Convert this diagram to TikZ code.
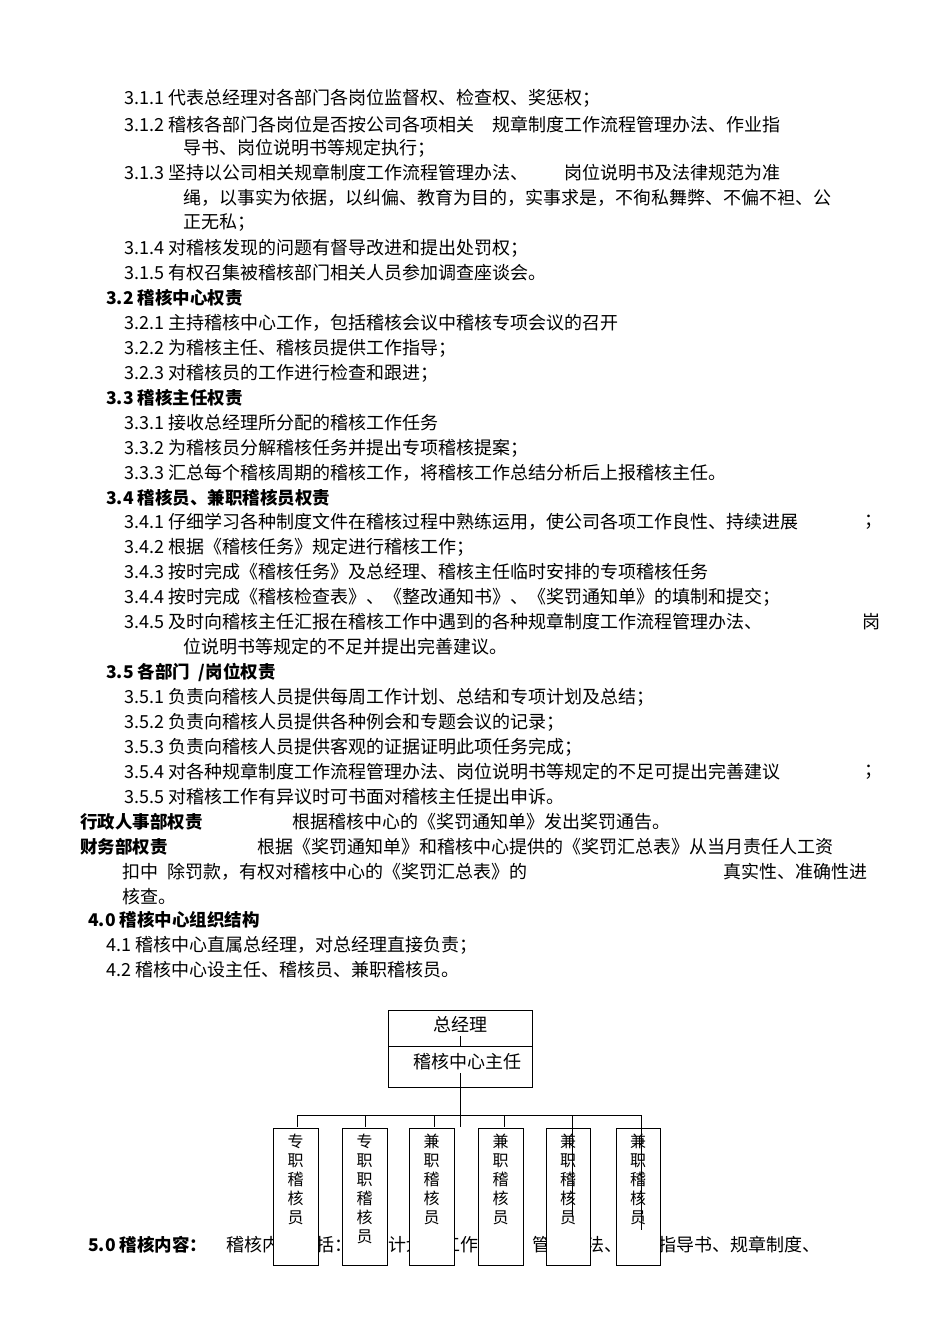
\documentclass[tikz,border=0pt]{standalone}
\usepackage{fontspec}
\setmainfont{Noto Sans CJK SC}
\begin{document}
\begin{tikzpicture}[x=1pt,y=-1pt,
  t/.style={anchor=west,inner sep=0pt,font=\fontsize{18}{20}\selectfont},
  h/.style={anchor=west,inner sep=0pt,font=\fontsize{17.5}{20}\selectfont\bfseries},
  bx/.style={draw,fill=white,line width=0.8pt},
  ln/.style={line width=0.8pt}]
\useasboundingbox (0,0) rectangle (950,1344);
\node[t] (l1) at (124,98) {3.1.1 代表总经理对各部门各岗位监督权、检查权、奖惩权；};
\node[t] (l2) at (124,125) {3.1.2 稽核各部门各岗位是否按公司各项相关\quad 规章制度工作流程管理办法、作业指};
\node[t] (l3) at (183,148) {导书、岗位说明书等规定执行；};
\node[t] (l4) at (124,173) {3.1.3 坚持以公司相关规章制度工作流程管理办法、\qquad 岗位说明书及法律规范为准};
\node[t] (l5) at (183,198) {绳，以事实为依据，以纠偏、教育为目的，实事求是，不徇私舞弊、不偏不袒、公};
\node[t] (l6) at (183,223) {正无私；};
\node[t] (l7) at (124,248) {3.1.4 对稽核发现的问题有督导改进和提出处罚权；};
\node[t] (l8) at (124,273) {3.1.5 有权召集被稽核部门相关人员参加调查座谈会。};
\node[h] (h32) at (106,298) {3.2 稽核中心权责};
\node[t] (l9) at (124,323) {3.2.1 主持稽核中心工作，包括稽核会议中稽核专项会议的召开};
\node[t] (l10) at (124,348) {3.2.2 为稽核主任、稽核员提供工作指导；};
\node[t] (l11) at (124,373) {3.2.3 对稽核员的工作进行检查和跟进；};
\node[h] (h33) at (106,398) {3.3 稽核主任权责};
\node[t] (l12) at (124,423) {3.3.1 接收总经理所分配的稽核工作任务};
\node[t] (l13) at (124,448) {3.3.2 为稽核员分解稽核任务并提出专项稽核提案；};
\node[t] (l14) at (124,473) {3.3.3 汇总每个稽核周期的稽核工作，将稽核工作总结分析后上报稽核主任。};
\node[h] (h34) at (106,498) {3.4 稽核员、兼职稽核员权责};
\node[t] (l15) at (124,522) {3.4.1 仔细学习各种制度文件在稽核过程中熟练运用，使公司各项工作良性、持续进展};
\node[t] (s1) at (864,522) {；};
\node[t] (l16) at (124,547) {3.4.2 根据《稽核任务》规定进行稽核工作；};
\node[t] (l17) at (124,572) {3.4.3 按时完成《稽核任务》及总经理、稽核主任临时安排的专项稽核任务};
\node[t] (l18) at (124,597) {3.4.4 按时完成《稽核检查表》、《整改通知书》、《奖罚通知单》的填制和提交；};
\node[t] (l19) at (124,622) {3.4.5 及时向稽核主任汇报在稽核工作中遇到的各种规章制度工作流程管理办法、};
\node[t] (s2) at (862,622) {岗};
\node[t] (l20) at (183,647) {位说明书等规定的不足并提出完善建议。};
\node[h] (h35) at (106,672) {3.5 各部门\enspace /岗位权责};
\node[t] (l21) at (124,697) {3.5.1 负责向稽核人员提供每周工作计划、总结和专项计划及总结；};
\node[t] (l22) at (124,722) {3.5.2 负责向稽核人员提供各种例会和专题会议的记录；};
\node[t] (l23) at (124,747) {3.5.3 负责向稽核人员提供客观的证据证明此项任务完成；};
\node[t] (l24) at (124,772) {3.5.4 对各种规章制度工作流程管理办法、岗位说明书等规定的不足可提出完善建议};
\node[t] (s3) at (864,772) {；};
\node[t] (l25) at (124,797) {3.5.5 对稽核工作有异议时可书面对稽核主任提出申诉。};
\node[h] (h36) at (80,822) {行政人事部权责};
\node[t] (l26) at (292,822) {根据稽核中心的《奖罚通知单》发出奖罚通告。};
\node[h] (h37) at (80,847) {财务部权责};
\node[t] (l27) at (257,847) {根据《奖罚通知单》和稽核中心提供的《奖罚汇总表》从当月责任人工资};
\node[t] (l28) at (122,872) {扣中\enspace 除罚款，有权对稽核中心的《奖罚汇总表》的};
\node[t] (l29) at (723,872) {真实性、准确性进};
\node[t] (l30) at (122,897) {核查。};
\node[h] (h40) at (88,920) {4.0 稽核中心组织结构};
\node[t] (l31) at (106,945) {4.1 稽核中心直属总经理，对总经理直接负责；};
\node[t] (l32) at (106,970) {4.2 稽核中心设主任、稽核员、兼职稽核员。};
\node[h] (h50) at (88,1245) {5.0 稽核内容：};
\node[t] (l33) at (226,1245) {稽核内容包括：工作计划、工作流程、管理办法、作业指导书、规章制度、};
\draw[bx] (388,1010) rectangle (532,1087);
\draw[ln] (388,1046) -- (532,1046);
\node[t,anchor=center] (gm) at (460,1025) {总经理};
\node[t,anchor=center] (dir) at (467,1062) {稽核中心主任};
\draw[ln] (460,1036) -- (460,1046);
\draw[ln] (460,1073) -- (460,1127);
\draw[ln] (297,1115) -- (641,1115);
\foreach \x in {297,365,434,504} \draw[ln] (\x,1115) -- (\x,1127);
\foreach \xa/\xb/\lab/\nm in {273/318/{专\\职\\稽\\核\\员}/b1,342/387/{专\\职\\职\\稽\\核\\员}/b2,409/454/{兼\\职\\稽\\核\\员}/b3,478/523/{兼\\职\\稽\\核\\员}/b4,546/590/{兼\\职\\稽\\核\\员}/b5,616/660/{兼\\职\\稽\\核\\员}/b6}{
  \draw[bx] (\xa,1128) rectangle (\xb,1265);
  \node[anchor=north,align=center,inner sep=0pt,font=\fontsize{16}{19}\selectfont] (\nm) at ({(\xa+\xb)/2},1134) {\lab};
}
\draw[ln] (572,1115) -- (572,1217);
\draw[ln] (641,1115) -- (641,1230);
\end{tikzpicture}
\end{document}
